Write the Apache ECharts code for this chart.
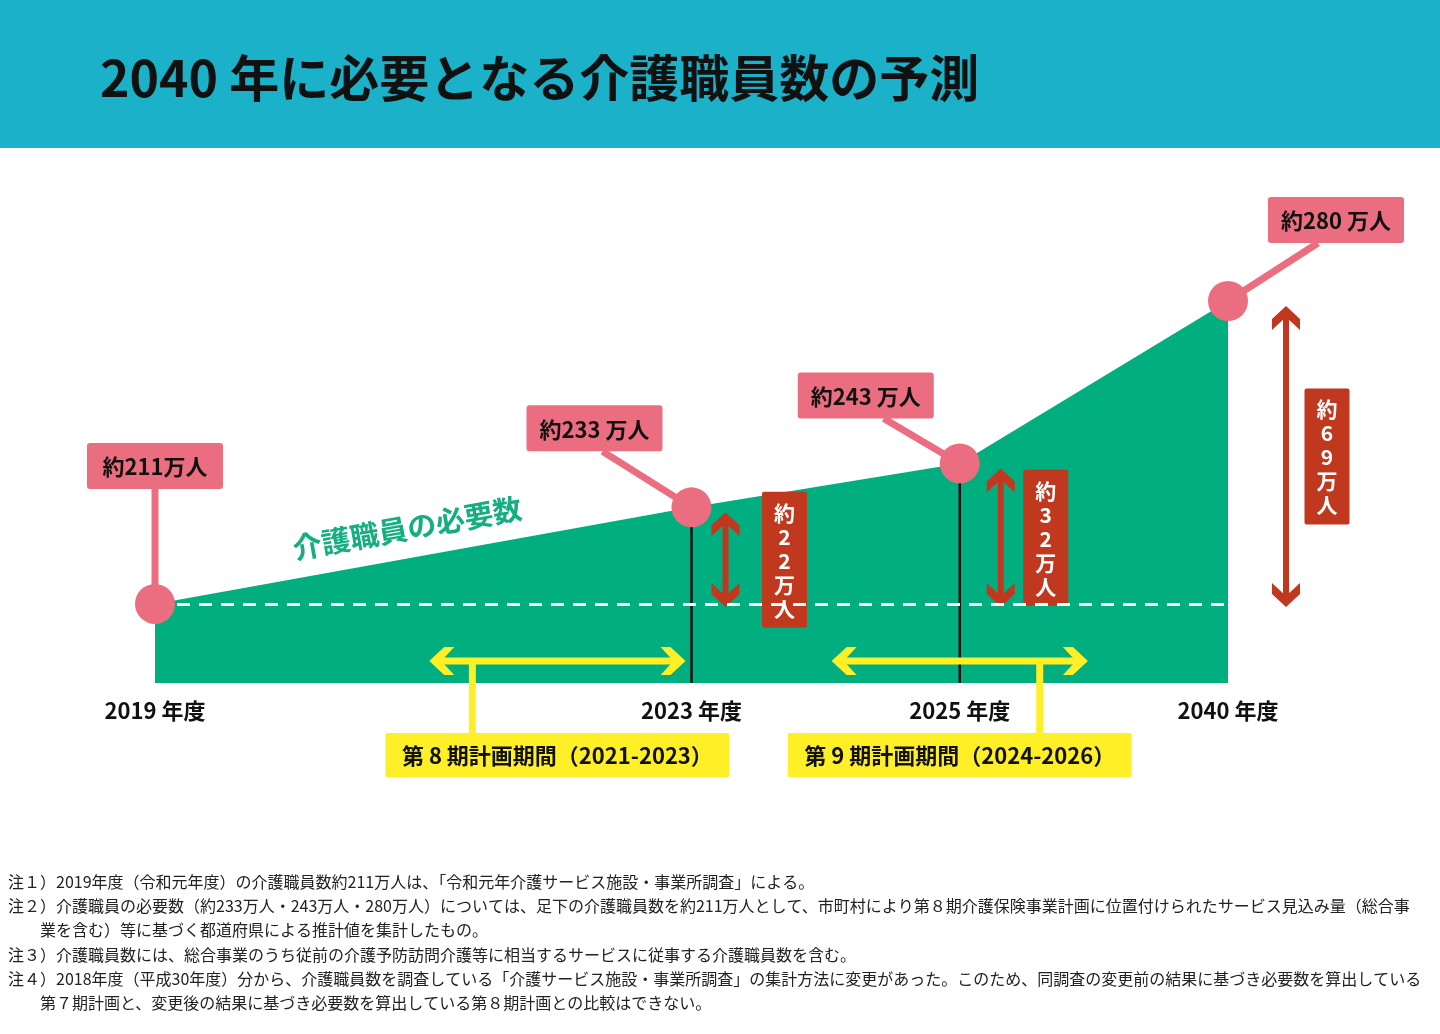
<!DOCTYPE html>
<html>
<head>
<meta charset="utf-8">
<script src="https://cdn.jsdelivr.net/npm/echarts@6/dist/echarts.min.js"></script>
<style>
html,body{margin:0;padding:0;background:#fff;}
#c{width:1440px;height:1034px;}
</style>
</head>
<body>
<div id="c"></div>
<script>
// ---------- data ----------
const titleText = '2040 年に必要となる介護職員数の予測';
const fiscalYears = ['2019','2020','2021','2022','2023','2024','2025','2026','2040']; // timeline slots (axis skips 2027-2039)
const milestoneYears = ['2019','2023','2025','2040'];
const workers = [211, 233, 243, 280];          // 万人
const increases = [22, 32, 69];                // 万人, vs 2019
const planNames = ['第 8 期計画期間（2021-2023）', '第 9 期計画期間（2024-2026）'];
const planStart = ['2021', '2024'];
const planEnd = ['2023', '2026'];
const curveLabel = '介護職員の必要数';
const notes = [
  '注１）2019年度（令和元年度）の介護職員数約211万人は、「令和元年介護サービス施設・事業所調査」による。',
  '注２）介護職員の必要数（約233万人・243万人・280万人）については、足下の介護職員数を約211万人として、市町村により第８期介護保険事業計画に位置付けられたサービス見込み量（総合事',
  '　　業を含む）等に基づく都道府県による推計値を集計したもの。',
  '注３）介護職員数には、総合事業のうち従前の介護予防訪問介護等に相当するサービスに従事する介護職員数を含む。',
  '注４）2018年度（平成30年度）分から、介護職員数を調査している「介護サービス施設・事業所調査」の集計方法に変更があった。このため、同調査の変更前の結果に基づき必要数を算出している',
  '　　第７期計画と、変更後の結果に基づき必要数を算出している第８期計画との比較はできない。'
];

// ---------- style ----------
const FONT = '"Noto Sans CJK JP", "Noto Sans", sans-serif';
const TEAL = '#1BB1C8', GREEN = '#00AE80', PINK = '#EA6E80', RED = '#C0391F', YELLOW = '#FFEF26';
const Y_MIN = 193, Y_MAX = 303;
const boxDelta = [[0,-138],[-97,-79],[-94,-68],[108,-81]];
const connDelta = [[0,-115],[-89,-56],[-76,-45],[90,-58]];
const arrowDx = [34, 41, 58];
const redBoxDx = [93, 86, 99];
const planConnDx = [-85, 80];

const idx = y => fiscalYears.indexOf(y);

const chart = echarts.init(document.getElementById('c'), null, {renderer: 'canvas'});

const graphics = [
  {type:'rect', left:0, top:0, shape:{width:1440, height:148}, style:{fill:TEAL}, z:0},
  {type:'text', x:100, y:78, style:{text:titleText, font:'bold 50px ' + FONT, fill:'#111', verticalAlign:'middle', align:'left'}}
];
const noteY = [882, 906, 930, 955, 979, 1003];
notes.forEach((t, i) => {
  graphics.push({type:'text', x:8, y:noteY[i], style:{text:t, font:'16px ' + FONT, fill:'#222', verticalAlign:'middle', align:'left'}});
});

const option = {
  animation: false,
  backgroundColor: '#fff',
  grid: {left:155, right:212, top:200, bottom:351},
  xAxis: {
    type:'category', data: fiscalYears, boundaryGap:false,
    axisLine:{show:false}, axisTick:{show:false}, splitLine:{show:false},
    axisLabel:{
      interval:(i, v) => milestoneYears.includes(v),
      formatter: v => v + ' 年度',
      fontSize:22, fontWeight:'bold', color:'#111', fontFamily:FONT, margin:17
    }
  },
  yAxis: {type:'value', min:Y_MIN, max:Y_MAX, show:false},
  series: [
    {
      type:'line', silent:true, z:1,
      data: milestoneYears.map((y, i) => [idx(y), workers[i]]),
      symbol:'none', lineStyle:{width:0}, areaStyle:{color:GREEN, opacity:1},
      markLine:{
        silent:true, symbol:'none', label:{show:false},
        lineStyle:{color:'#fff', width:3, type:[13, 9]},
        data:[[{coord:[0, workers[0]]}, {coord:[fiscalYears.length - 1, workers[0]]}]]
      }
    },
    {
      // vertical guide lines at intermediate milestones
      type:'custom', silent:true, z:2,
      data: milestoneYears.slice(1, 3).map((y, i) => [idx(y), workers[i + 1]]),
      renderItem:(params, api) => {
        const top = api.coord([api.value(0), api.value(1)]);
        const bot = api.coord([api.value(0), Y_MIN]);
        return {type:'line', shape:{x1:top[0], y1:top[1], x2:bot[0], y2:bot[1]}, style:{stroke:'#111', lineWidth:2.5}};
      }
    },
    {
      // increase arrows
      type:'custom', silent:true, z:3,
      data: increases.map((inc, k) => [idx(milestoneYears[k + 1]), workers[0], workers[k + 1], inc, k]),
      renderItem:(params, api) => {
        const k = api.value(4);
        const pTop = api.coord([api.value(0), api.value(2)]);
        const pBase = api.coord([api.value(0), api.value(1)]);
        const ax = pTop[0] + arrowDx[k];
        const t = pTop[1] + 5, b = pBase[1] + 3;
        const inc = api.value(3);
        const txt = ['約'].concat(String(inc).split(''), ['万', '人']).join('\n');
        const cx = pTop[0] + redBoxDx[k], cy = (t + b) / 2;
        return {type:'group', children:[
          {type:'rect', shape:{x:ax - 3, y:t + 8, width:6, height:b - t - 16}, style:{fill:RED}},
          {type:'polygon', shape:{points:[[ax,t],[ax+14,t+13],[ax+14,t+24],[ax,t+11],[ax-14,t+24],[ax-14,t+13]]}, style:{fill:RED}},
          {type:'polygon', shape:{points:[[ax,b],[ax+14,b-13],[ax+14,b-24],[ax,b-11],[ax-14,b-24],[ax-14,b-13]]}, style:{fill:RED}},
          {type:'rect', shape:{x:cx - 22.5, y:cy - 68, width:45, height:136, r:2}, style:{fill:RED}},
          {type:'text', x:cx, y:cy + 1, style:{text:txt, font:'bold 21px ' + FONT, fill:'#fff', align:'center', verticalAlign:'middle', lineHeight:24}}
        ]};
      }
    },
    {
      // plan periods
      type:'custom', silent:true, z:3,
      data: planNames.map((p, i) => [idx(planStart[i]), Y_MIN, idx(planEnd[i]), i]),
      renderItem:(params, api) => {
        const i = api.value(3);
        const ps = api.coord([api.value(0), api.value(1)]);
        const pe = api.coord([api.value(2), api.value(1)]);
        const y = ps[1] - 22;
        const x1 = ps[0] + 6, x2 = pe[0] - 6;
        const cx = (x1 + x2) / 2;
        const kx = cx + planConnDx[i];
        const boxTop = y + 72;
        return {type:'group', children:[
          {type:'rect', shape:{x:x1 + 6, y:y - 3.5, width:x2 - x1 - 12, height:7}, style:{fill:YELLOW}},
          {type:'polygon', shape:{points:[[x1,y],[x1+15,y-14],[x1+25,y-14],[x1+12,y],[x1+25,y+14],[x1+15,y+14]]}, style:{fill:YELLOW}},
          {type:'polygon', shape:{points:[[x2,y],[x2-15,y-14],[x2-25,y-14],[x2-12,y],[x2-25,y+14],[x2-15,y+14]]}, style:{fill:YELLOW}},
          {type:'rect', shape:{x:kx - 3.5, y:y, width:7, height:boxTop - y}, style:{fill:YELLOW}},
          {type:'rect', shape:{x:cx - 172, y:boxTop, width:344, height:44, r:2}, style:{fill:YELLOW}},
          {type:'text', x:cx, y:boxTop + 23, style:{text:planNames[i], font:'bold 22px ' + FONT, fill:'#111', align:'center', verticalAlign:'middle'}}
        ]};
      }
    },
    {
      // milestone points with value labels
      type:'custom', silent:true, z:5,
      data: milestoneYears.map((y, i) => [idx(y), workers[i], i]),
      renderItem:(params, api) => {
        const i = api.value(2);
        const v = api.value(1);
        const p = api.coord([api.value(0), v]);
        const d = boxDelta[i], c = connDelta[i];
        const bx = p[0] + d[0], by = p[1] + d[1];
        const label = i === 0 ? ('約' + v + '万人') : ('約' + v + ' 万人');
        return {type:'group', children:[
          {type:'line', shape:{x1:p[0], y1:p[1], x2:p[0] + c[0], y2:p[1] + c[1]}, style:{stroke:PINK, lineWidth:7}},
          {type:'circle', shape:{cx:p[0], cy:p[1], r:20}, style:{fill:PINK}},
          {type:'rect', shape:{x:bx - 68, y:by - 23, width:136, height:46, r:3}, style:{fill:PINK}},
          {type:'text', x:bx, y:by + 1, style:{text:label, font:'bold 22px ' + FONT, fill:'#111', align:'center', verticalAlign:'middle'}}
        ]};
      }
    }
  ],
  graphic: graphics
};

chart.setOption(option);

// place the curve caption along the first ramp segment
const p0 = chart.convertToPixel({gridIndex:0}, [idx(milestoneYears[0]), workers[0]]);
const p1 = chart.convertToPixel({gridIndex:0}, [idx(milestoneYears[1]), workers[1]]);
const ang = Math.atan2(p0[1] - p1[1], p1[0] - p0[0]);
const mx = p0[0] + (p1[0] - p0[0]) * 0.48, my = p0[1] + (p1[1] - p0[1]) * 0.48;
const off = 30;
graphics.push({
  type:'text', x: mx - off * Math.sin(ang), y: my - off * Math.cos(ang), rotation: ang,
  style:{text:curveLabel, font:'bold 29px ' + FONT, fill:'#14AE80', align:'center', verticalAlign:'middle'}
});
chart.setOption({graphic: graphics});
</script>
</body>
</html>
